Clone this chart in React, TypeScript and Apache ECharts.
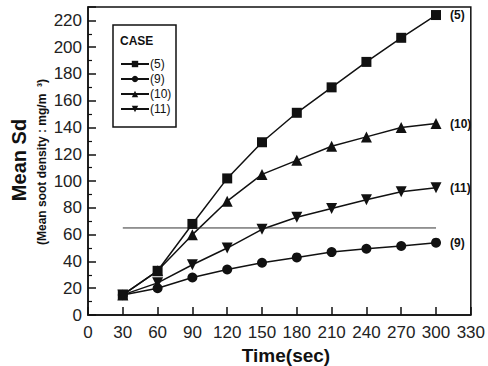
import React, { useEffect, useRef } from "react";
import * as echarts from "echarts";

const times = [30, 60, 90, 120, 150, 180, 210, 240, 270, 300];
const case5 = [15, 33, 68, 102, 129, 151, 170, 189, 207, 224];
const case9 = [15, 20, 28, 34, 39, 43, 47, 49.5, 51.5, 54];
const case10 = [15, 33, 60, 85, 105, 115.5, 126, 133, 140, 143];
const case11 = [15, 24, 37.5, 50, 64, 73, 79.5, 86, 92, 95];
const refLine = [[30, 65], [300, 65]];
const seriesNames = ["(5)", "(9)", "(10)", "(11)"];
const symbols = ["rect", "circle", "triangle", "triangle"];

const FONT = "Liberation Sans, Arial, sans-serif";

export default function App() {
  const ref = useRef<HTMLDivElement>(null);
  useEffect(() => {
    if (!ref.current) return;
    const chart = echarts.init(ref.current, null, { renderer: "svg" });
    const datas = [case5, case9, case10, case11];
    const sizes = [10, 10, 11, 11];
    const series: any[] = datas.map((d, i) => ({
      name: seriesNames[i],
      type: "line",
      data: d.map((v, j) => [times[j], v]),
      symbol: symbols[i],
      symbolSize: sizes[i],
      symbolRotate: i === 3 ? 180 : 0,
      itemStyle: { color: "#111" },
      lineStyle: { color: "#111", width: 1.5 },
      endLabel: {
        show: true,
        formatter: seriesNames[i],
        color: "#111",
        fontFamily: FONT,
        fontWeight: "bold",
        fontSize: 12,
        distance: 14,
      },
    }));
    series.push({
      name: "ref",
      type: "line",
      data: refLine,
      symbol: "none",
      lineStyle: { color: "#333", width: 1 },
      silent: true,
    });
    chart.setOption({
      animation: false,
      backgroundColor: "#fff",
      grid: { left: 88, right: 12, top: 7, bottom: 51, show: true, borderColor: "#111", borderWidth: 1.5 },
      xAxis: {
        type: "value",
        min: 0,
        max: 330,
        interval: 30,
        axisLine: { lineStyle: { color: "#111", width: 1.5 } },
        axisTick: { inside: true, length: 8, lineStyle: { color: "#111", width: 1.5 } },
        splitLine: { show: false },
        axisLabel: { color: "#222", fontSize: 17, fontFamily: FONT, margin: 9 },
      },
      yAxis: {
        type: "value",
        min: 0,
        max: 230,
        interval: 20,
        axisLine: { lineStyle: { color: "#111", width: 1.5 } },
        axisTick: { inside: true, length: 8, lineStyle: { color: "#111", width: 1.5 } },
        minorTick: { show: true, splitNumber: 2, length: 4, lineStyle: { color: "#111", width: 1.2 } },
        splitLine: { show: false },
        axisLabel: { color: "#222", fontSize: 17, fontFamily: FONT, margin: 6, showMaxLabel: false },
      },
      legend: {
        data: seriesNames,
        orient: "vertical",
        left: 115,
        top: 53,
        itemWidth: 28,
        itemHeight: 8,
        itemGap: 3,
        textStyle: { color: "#111", fontSize: 12, fontFamily: FONT, padding: [0, 0, 0, -4] },
        selectedMode: false,
      },
      graphic: [
        {
          type: "rect",
          shape: { x: 113, y: 25, width: 63, height: 102 },
          style: { fill: "none", stroke: "#111", lineWidth: 1.5 },
          z: 10,
        },
        {
          type: "text",
          x: 120,
          y: 35,
          style: { text: "CASE", fill: "#111", font: "bold 12px " + FONT },
          z: 10,
        },
        {
          type: "text",
          x: 19,
          y: 160,
          rotation: Math.PI / 2,
          style: { text: "Mean Sd", fill: "#111", font: "bold 20px " + FONT, align: "center", verticalAlign: "middle" },
        },
        {
          type: "text",
          x: 42,
          y: 162,
          rotation: Math.PI / 2,
          style: { text: "(Mean soot density : mg/m  ³)", fill: "#111", font: "bold 12px " + FONT, align: "center", verticalAlign: "middle" },
        },
        {
          type: "text",
          x: 286,
          y: 355,
          style: { text: "Time(sec)", fill: "#111", font: "bold 19px " + FONT, align: "center", verticalAlign: "middle" },
        },
      ],
      series,
    });
    return () => chart.dispose();
  }, []);
  return <div ref={ref} style={{ width: 488, height: 366, position: "absolute", left: 0, top: 0 }} />;
}
